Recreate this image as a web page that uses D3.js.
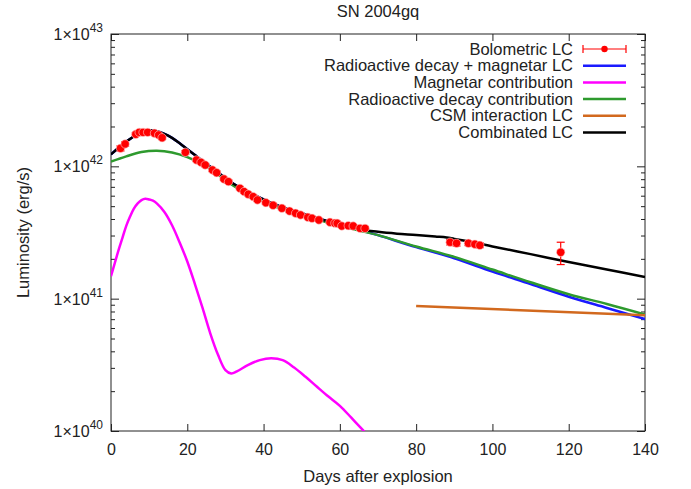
<!DOCTYPE html>
<html>
<head>
<meta charset="utf-8">
<script src="https://cdn.jsdelivr.net/npm/d3@7/dist/d3.min.js"></script>
<style>
	body { margin: 0; background: #fff; }
	svg text { font-family: "Liberation Sans", Arial, Helvetica, sans-serif; fill: #222; }
	.axis line { stroke: #222; }
	.axis path { display: none; }
</style>
</head>
<body>
<svg id="chart" width="691" height="489"></svg>
<script>
// bolometric light curve (days, erg/s)
let obs_days = [2.5, 3.7, 6.5, 7.4, 8.4, 9.6, 11.4, 12.5, 13.4, 19.5, 22.4, 23.6, 24.7, 26.6, 27.7,
	29.6, 30.8, 33.8, 34.9, 36.0, 37.3, 38.4, 40.6, 42.5, 44.8, 46.8, 48.4, 49.7, 51.6, 52.7,
	54.5, 57.4, 58.7, 59.3, 60.5, 62.2, 63.5, 65.3, 66.6, 88.9, 90.6, 93.7, 95.4, 96.7, 117.9];
let obs_lum = [1.368e42, 1.476e42, 1.746e42, 1.807e42, 1.807e42, 1.807e42, 1.778e42, 1.726e42, 1.644e42,
	1.276e42, 1.117e42, 1.072e42, 1.023e42, 9.38e41, 8.95e41, 8.02e41, 7.66e41, 6.82e41, 6.44e41,
	6.15e41, 5.90e41, 5.57e41, 5.31e41, 5.08e41, 4.82e41, 4.59e41, 4.42e41, 4.29e41, 4.12e41,
	4.05e41, 3.93e41, 3.78e41, 3.72e41, 3.71e41, 3.54e41, 3.56e41, 3.54e41, 3.40e41, 3.40e41,
	2.67e41, 2.62e41, 2.62e41, 2.58e41, 2.53e41, 2.24e41];
let obs_err = [6e40, 6e40, 5e40, 5e40, 5e40, 5e40, 5e40, 5e40, 5e40, 4e40, 3e40, 3e40, 3e40, 2.5e40, 2.5e40,
	2e40, 2e40, 1.8e40, 1.8e40, 1.6e40, 1.6e40, 1.5e40, 1.4e40, 1.4e40, 1.3e40, 1.2e40, 1.2e40, 1.2e40,
	1.1e40, 1.1e40, 1.0e40, 1.0e40, 1.0e40, 1.0e40, 9e39, 9e39, 9e39, 9e39, 9e39,
	1.2e40, 1.2e40, 1.0e40, 1.0e40, 1.0e40, 4.3e40];

// radioactive decay + magnetar
let blue_days = [0, 2, 4, 6, 8, 10, 12, 14, 16, 18, 20, 22, 24, 28, 32, 36, 40, 45, 50, 55, 60, 65,
	70, 80, 90, 100, 110, 120, 130, 140];
let blue_lum = [1.230e42, 1.380e42, 1.531e42, 1.690e42, 1.820e42, 1.871e42, 1.841e42, 1.758e42, 1.641e42,
	1.496e42, 1.349e42, 1.216e42, 1.096e42, 9.02e41, 7.41e41, 6.38e41, 5.62e41, 4.90e41, 4.42e41,
	3.98e41, 3.63e41, 3.33e41, 3.02e41, 2.45e41, 2.02e41, 1.60e41, 1.29e41, 1.035e41, 8.51e40, 7.00e40];

// magnetar contribution
let mag_days = [0, 1, 2, 3, 4, 5, 6, 7, 8, 9, 10, 11, 12, 14, 16, 18, 20, 22, 24, 26, 28, 30, 31.5,
	33, 36, 39, 42, 45, 48, 51, 54, 57, 60, 63, 66, 67];
let mag_lum = [1.48e41, 1.86e41, 2.34e41, 2.88e41, 3.55e41, 4.17e41, 4.79e41, 5.25e41, 5.56e41, 5.69e41,
	5.62e41, 5.50e41, 5.25e41, 4.52e41, 3.59e41, 2.66e41, 1.91e41, 1.29e41, 8.51e40, 5.50e40, 3.80e40,
	2.88e40, 2.72e40, 2.82e40, 3.16e40, 3.43e40, 3.54e40, 3.43e40, 3.02e40, 2.57e40, 2.16e40, 1.82e40,
	1.55e40, 1.26e40, 1.02e40, 9.5e39];

// radioactive decay contribution
let rad_days = [0, 4, 8, 12, 16, 20, 24, 28, 32, 36, 40, 45, 50, 55, 60, 65, 70, 80, 90, 100, 110, 120, 130, 140];
let rad_lum = [1.084e42, 1.189e42, 1.282e42, 1.312e42, 1.274e42, 1.175e42, 1.035e42, 8.71e41, 7.16e41,
	6.10e41, 5.43e41, 4.73e41, 4.27e41, 3.89e41, 3.55e41, 3.27e41, 3.02e41, 2.48e41, 2.07e41, 1.66e41,
	1.33e41, 1.08e41, 9.12e40, 7.59e40];

// CSM interaction
let csm_days = [80, 140];
let csm_lum = [8.8e40, 7.5e40];

// combined
let comb_days = [0, 2, 4, 6, 8, 10, 12, 14, 16, 18, 20, 22, 24, 28, 32, 36, 40, 45, 50, 55, 60, 65,
	70, 75, 80, 85, 88, 90, 95, 100, 110, 120, 130, 140];
let comb_lum = [1.230e42, 1.380e42, 1.531e42, 1.690e42, 1.820e42, 1.871e42, 1.841e42, 1.758e42, 1.641e42,
	1.496e42, 1.349e42, 1.216e42, 1.096e42, 9.02e41, 7.41e41, 6.38e41, 5.62e41, 4.90e41, 4.42e41,
	3.98e41, 3.63e41, 3.35e41, 3.20e41, 3.10e41, 3.03e41, 2.95e41, 2.90e41, 2.83e41, 2.66e41, 2.48e41,
	2.17e41, 1.89e41, 1.66e41, 1.46e41];

let x_ticks = [0, 20, 40, 60, 80, 100, 120, 140];
let y_exps = [40, 41, 42, 43];
let legend_labels = ['Bolometric LC', 'Radioactive decay + magnetar LC', 'Magnetar contribution',
	'Radioactive decay contribution', 'CSM interaction LC', 'Combinated LC'];
let legend_colors = ['#ff0000', '#1a1aff', '#ff00ff', '#2e9a2e', '#d2691e', '#000000'];

let margin = {left: 111, right: 46, top: 34, bottom: 58},
	width = 691 - margin.left - margin.right,
	height = 489 - margin.top - margin.bottom;

let svg = d3.select('#chart');

let x = d3.scaleLinear().domain([0, 140]).range([margin.left, margin.left + width]);
let y = d3.scaleLog().domain([1e40, 1e43]).range([margin.top + height, margin.top]);

let major_y = y_exps.map(e => Math.pow(10, e));
let minor_y = y.ticks().filter(v => major_y.indexOf(v) < 0);

svg.append('defs').append('clipPath')
	.attr('id', 'plot_clip')
	.append('rect')
	.attr('x', margin.left)
	.attr('y', margin.top)
	.attr('width', width)
	.attr('height', height);

// axes, ticks pointing inward on all four sides
svg.append('g').attr('class', 'axis')
	.attr('transform', `translate(0, ${margin.top + height})`)
	.call(d3.axisBottom(x).tickValues(x_ticks).tickSize(-7).tickPadding(13))
	.selectAll('text')
	.style('font-size', '16px')
	.style('font-family', '"Liberation Sans", Arial, sans-serif')
	.attr('fill', '#222');
svg.append('g').attr('class', 'axis')
	.attr('transform', `translate(0, ${margin.top})`)
	.call(d3.axisTop(x).tickValues(x_ticks).tickSize(-7).tickFormat(''));

[['left', margin.left, d3.axisLeft], ['right', margin.left + width, d3.axisRight]].forEach(([side, xpos, axis]) => {
	svg.append('g').attr('class', 'axis')
		.attr('transform', `translate(${xpos}, 0)`)
		.call(axis(y).tickValues(major_y).tickSize(-8).tickFormat(''));
	svg.append('g').attr('class', 'axis')
		.attr('transform', `translate(${xpos}, 0)`)
		.call(axis(y).tickValues(minor_y).tickSize(-4).tickFormat(''));
});

svg.append('rect')
	.attr('x', margin.left)
	.attr('y', margin.top)
	.attr('width', width)
	.attr('height', height)
	.attr('fill', 'none')
	.attr('stroke', '#222')
	.attr('stroke-width', 1);

// y tick labels 1x10^n
let ylab = svg.append('g');
y_exps.forEach(e => {
	let t = ylab.append('text')
		.attr('x', margin.left - 8)
		.attr('y', y(Math.pow(10, e)) + 6)
		.attr('text-anchor', 'end')
		.style('font-size', '16px');
	t.append('tspan').text('1×10');
	t.append('tspan')
		.attr('dy', -8)
		.style('font-size', '12px')
		.text(e);
});

// titles
svg.append('text')
	.attr('x', margin.left + width / 2)
	.attr('y', 17)
	.attr('text-anchor', 'middle')
	.style('font-size', '16.5px')
	.text('SN 2004gq');
svg.append('text')
	.attr('x', margin.left + width / 2)
	.attr('y', 482)
	.attr('text-anchor', 'middle')
	.style('font-size', '16.5px')
	.text('Days after explosion');
svg.append('text')
	.attr('transform', `translate(29, ${margin.top + height / 2}) rotate(-90)`)
	.attr('text-anchor', 'middle')
	.style('font-size', '16.5px')
	.text('Luminosity (erg/s)');

// model curves
let line = d3.line()
	.x(d => x(d[0]))
	.y(d => y(d[1]))
	.curve(d3.curveCatmullRom.alpha(0.5));

let curves = [
	[blue_days, blue_lum, legend_colors[1]],
	[mag_days, mag_lum, legend_colors[2]],
	[rad_days, rad_lum, legend_colors[3]],
	[csm_days, csm_lum, legend_colors[4]],
	[comb_days, comb_lum, legend_colors[5]]
];

let plot = svg.append('g').attr('clip-path', 'url(#plot_clip)');
curves.forEach(([days, lum, col]) => {
	plot.append('path')
		.attr('d', line(days.map((d, i) => [d, lum[i]])))
		.attr('fill', 'none')
		.attr('stroke', col)
		.attr('stroke-width', 2.5);
});

// data with error bars
let obs = obs_days.map((d, i) => ({day: d, lum: obs_lum[i], err: obs_err[i]}));
let pts = plot.selectAll('.obs')
	.data(obs)
	.enter()
	.append('g')
	.attr('class', 'obs');
pts.append('line')
	.attr('x1', d => x(d.day))
	.attr('x2', d => x(d.day))
	.attr('y1', d => y(d.lum - d.err))
	.attr('y2', d => y(d.lum + d.err))
	.attr('stroke', '#ff0000')
	.attr('stroke-width', 1.2);
[1, -1].forEach(s => {
	pts.append('line')
		.attr('x1', d => x(d.day) - 4)
		.attr('x2', d => x(d.day) + 4)
		.attr('y1', d => y(d.lum + s * d.err))
		.attr('y2', d => y(d.lum + s * d.err))
		.attr('stroke', '#ff0000')
		.attr('stroke-width', 1.2);
});
pts.append('circle')
	.attr('cx', d => x(d.day))
	.attr('cy', d => y(d.lum))
	.attr('r', 4.2)
	.attr('fill', '#ff0000')
	.attr('stroke', '#ffd0d0')
	.attr('stroke-width', 0.6);

// legend
let leg_x = 573, leg_y = 49, leg_dy = 16.7;
let legend = svg.append('g');
legend_labels.forEach((lab, i) => {
	let yy = leg_y + i * leg_dy;
	legend.append('text')
		.attr('x', leg_x)
		.attr('y', yy + 5.5)
		.attr('text-anchor', 'end')
		.style('font-size', '16.5px')
		.text(lab);
	if (i === 0) {
		legend.append('line')
			.attr('x1', 583).attr('x2', 626)
			.attr('y1', yy).attr('y2', yy)
			.attr('stroke', legend_colors[0]).attr('stroke-width', 1.2);
		[583, 626].forEach(cx => {
			legend.append('line')
				.attr('x1', cx).attr('x2', cx)
				.attr('y1', yy - 4).attr('y2', yy + 4)
				.attr('stroke', legend_colors[0]).attr('stroke-width', 1.2);
		});
		legend.append('circle')
			.attr('cx', 604.5).attr('cy', yy)
			.attr('r', 3.2)
			.attr('fill', legend_colors[0]);
	} else {
		legend.append('line')
			.attr('x1', 583).attr('x2', 626)
			.attr('y1', yy).attr('y2', yy)
			.attr('stroke', legend_colors[i]).attr('stroke-width', 2.5);
	}
});
</script>
</body>
</html>
